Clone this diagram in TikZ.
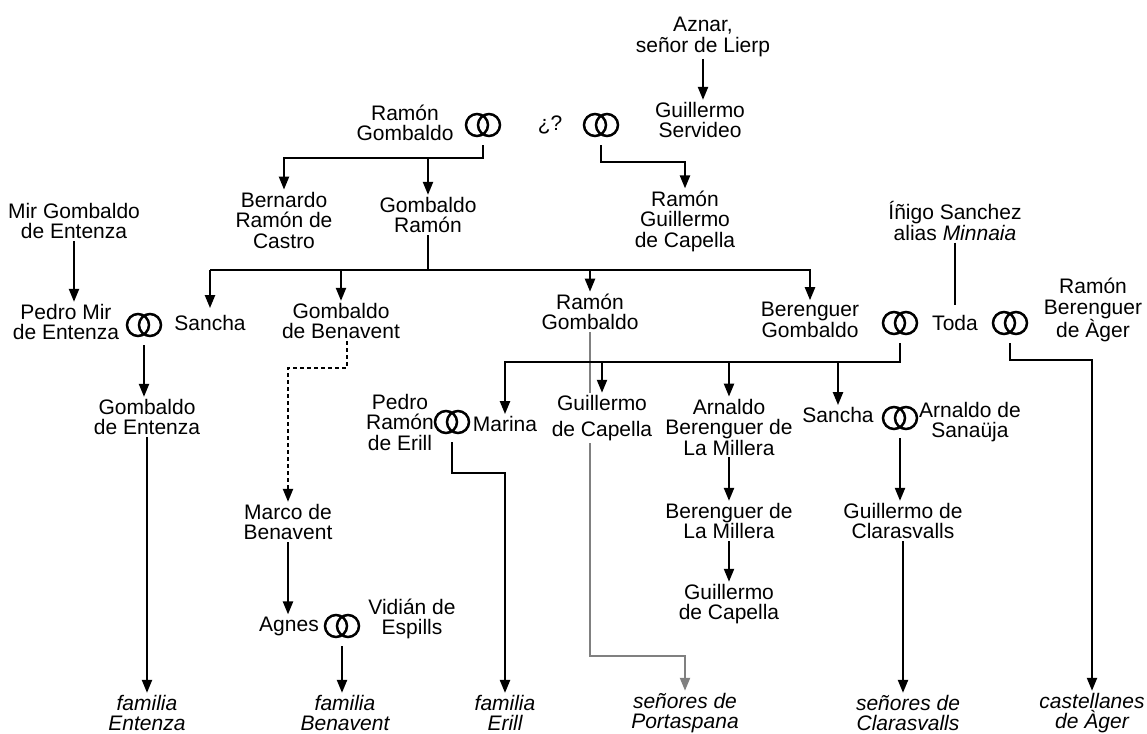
\documentclass[tikz,border=0pt]{standalone}
\usepackage{fontspec}
\setmainfont{Liberation Sans}
\usepackage{tikz}
\usetikzlibrary{arrows.meta}

\tikzset{
  person/.style={align=center,inner sep=2pt,font=\fontsize{21}{20.5}\selectfont},
  house/.style={person,font=\fontsize{21}{20.5}\selectfont\itshape},
  ring/.style={minimum width=36pt,minimum height=40pt,inner sep=0pt},
  link/.style={line width=2.2pt},
  maybe/.style={link,dash pattern=on 4pt off 3pt},
  branch/.style={link,color=gray},
}

\begin{document}
\begin{tikzpicture}[x=1pt,y=-1pt]
\fill[white] (0,0) rectangle (1147,733);
\useasboundingbox (0,0) rectangle (1147,733);
\begin{scope}[>={Triangle[length=13pt,width=10pt]}]
    % generation 1
    \node[person] (aznar) at (703,37) {Aznar,\\señor de Lierp};
    \node[person] (servideo) at (700,120) {Guillermo\\Servideo};
    \node[person] (ramongomb) at (405,123) {Ramón\\Gombaldo};
    \node[ring] (ringA) at (483,125) {};
    \node[person] (unknown) at (550,125) {¿?};
    \node[ring] (ringB) at (601,125) {};

    % generation 2
    \node[person] (bernardo) at (284,220) {Bernardo\\Ramón de\\Castro};
    \node[person] (gombramon) at (428,215) {Gombaldo\\Ramón};
    \node[person] (rgcapella) at (685,221) {Ramón\\Guillermo\\de Capella};
    \node[person] (mirgomb) at (74,221) {Mir Gombaldo\\de Entenza};
    \node[person] (inigo) at (955,221) {Íñigo Sanchez\\alias \textit{Minnaia}};

    % generation 3
    \node[person] (pedromir) at (66,322) {Pedro Mir\\de Entenza};
    \node[ring] (ringC) at (144,325) {};
    \node[person] (sancha) at (210,323) {Sancha};
    \node[person] (gbenavent) at (341,321) {Gombaldo\\de Benavent};
    \node[person] (ramongomb2) at (590,312) {Ramón\\Gombaldo};
    \node[person] (bergomb) at (810,320) {Berenguer\\Gombaldo};
    \node[ring] (ringD) at (900,323) {};
    \node[person] (toda) at (955,323) {Toda};
    \node[ring] (ringE) at (1010,323) {};
    \node[person] (ramonber) at (1093,310) {Ramón\\Berenguer\\de Àger};

    % generation 4
    \node[person] (gentenza) at (147,417) {Gombaldo\\de Entenza};
    \node[person] (pedroram) at (400,422) {Pedro\\Ramón\\de Erill};
    \node[ring] (ringF) at (452,422) {};
    \node[person] (marina) at (505,424) {Marina};
    \node[person] (gcapella) at (602,418) {Guillermo\\[6pt]de Capella};
    \node[person] (arnaldo) at (729,427) {Arnaldo\\Berenguer de\\La Millera};
    \node[person] (sancha2) at (838,415) {Sancha};
    \node[ring] (ringG) at (900,418) {};
    \node[person] (arnsan) at (970,422) {Arnaldo de\\Sanaüja};

    % later
    \node[person] (marco) at (288,522) {Marco de\\Benavent};
    \node[person] (berlm) at (729,521) {Berenguer de\\La Millera};
    \node[person] (gclaras) at (903,521) {Guillermo de\\Clarasvalls};
    \node[person] (gcapella2) at (729,604) {Guillermo\\de Capella};
    \node[person] (agnes) at (289,626) {Agnes};
    \node[ring] (ringH) at (342,626) {};
    \node[person] (vidian) at (412,619) {Vidián de\\Espills};

    % houses
    \node[house] (fentenza) at (147,713) {familia\\Entenza};
    \node[house] (fbenavent) at (345,713) {familia\\Benavent};
    \node[house] (ferill) at (505,713) {familia\\Erill};
    \node[house] (portaspana) at (685,713) {señores de\\Portaspana};
    \node[house] (fclaras) at (908,713) {señores de\\Clarasvalls};
    \node[house] (ager) at (1092,713) {castellanes\\de Àger};

    % bars
    \coordinate (barA) at (0,158);
    \coordinate (barB) at (0,162);
    \coordinate (barC) at (0,270);
    \coordinate (barD) at (0,368);
    \coordinate (barE) at (0,656);
    \coordinate (barF) at (0,362);
    \coordinate (barG) at (0,360);
    \coordinate (barH) at (0,473);

    % grey line behind
    \draw[branch] (ramongomb2.south) -- (ramongomb2.south |- gcapella.north);
    \draw[branch,->] (ramongomb2.south |- gcapella.south) -- (ramongomb2.south |- barE) -| (portaspana.north);

    \draw[link,->] (aznar.south) -- (aznar.south |- servideo.north);
    \draw[link,->] (ringA.south) -- (ringA.south |- barA) -| (bernardo.north);
    \draw[link,->] (gombramon.north |- barA) -- (gombramon.north);
    \draw[link,->] (ringB.south) -- (ringB.south |- barB) -| (rgcapella.north);
    \draw[link,->] (mirgomb.south) -- (mirgomb.south |- pedromir.north);

    \draw[link] (gombramon.south) -- (gombramon.south |- barC);
    \draw[link,->] (sancha.north |- barC) -| (bergomb.north);
    \draw[link,->] (sancha.north |- barC) -- ([yshift=5pt]sancha.north);
    \draw[link,->] (gbenavent.north |- barC) -- (gbenavent.north);
    \draw[link,->] (ramongomb2.north |- barC) -- (ramongomb2.north);

    \draw[maybe,->] ([xshift=6pt]gbenavent.south) -- ([xshift=6pt]gbenavent.south |- barD) -| (marco.north);
    \draw[link,->] (ringC.south) -- (ringC.south |- gentenza.north);
    \draw[link,->] (gentenza.south) -- (gentenza.south |- fentenza.north);

    \draw[link,->] (ringD.south) -- (ringD.south |- barF) -| (marina.north);
    \draw[link,->] (gcapella.north |- barF) -- (gcapella.north);
    \draw[link,->] (arnaldo.north |- barF) -- (arnaldo.north);
    \draw[link,->] (sancha2.north |- barF) -- (sancha2.north);

    \draw[link] (inigo.south) -- ([yshift=8pt]toda.north);
    \draw[link,->] (ringE.south) -- (ringE.south |- barG) -| (ager.north);
    \draw[link,->] (ringF.south) -- (ringF.south |- barH) -| (ferill.north);

    \draw[link,->] (arnaldo.south) -- (arnaldo.south |- berlm.north);
    \draw[link,->] (berlm.south) -- (berlm.south |- gcapella2.north);
    \draw[link,->] (ringG.south) -- (ringG.south |- gclaras.north);
    \draw[link,->] (gclaras.south) -- (gclaras.south |- fclaras.north);
    \draw[link,->] (marco.south) -- (marco.south |- agnes.north);
    \draw[link,->] (ringH.south) -- (ringH.south |- fbenavent.north);

    % marriage rings
    \foreach \rg in {ringA,ringB,ringC,ringD,ringE,ringF,ringG,ringH}
      \draw[line width=2.5pt] ([xshift=-6pt]\rg.center) circle(11pt)
                              ([xshift=6pt]\rg.center) circle(11pt);
\end{scope}
\end{tikzpicture}
\end{document}
